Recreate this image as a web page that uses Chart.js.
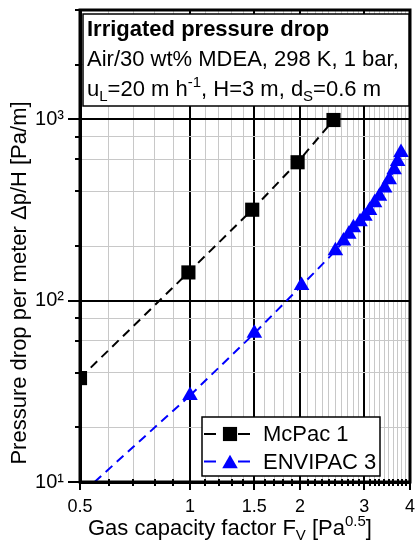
<!DOCTYPE html>
<html>
<head>
<meta charset="utf-8">
<style>
html,body{margin:0;padding:0;background:#fff;}
#wrap{width:420px;height:546px;position:relative;}
</style>
<script src="https://cdn.jsdelivr.net/npm/chart.js@4.4.1/dist/chart.umd.min.js"></script>
</head>
<body>
<div id="wrap"><canvas id="c" width="420" height="546"></canvas></div>
<script>
// ---------- data ----------
const mcpacName = 'McPac 1';
const mcpacFv = [0.5, 0.99, 1.48, 1.97, 2.47];
const mcpacDp = [37.4, 143, 317, 579, 990];

const envipacName = 'ENVIPAC 3';
const envipacFv = [1.0, 1.5, 2.02, 2.5, 2.63, 2.72, 2.8, 2.92, 3.01, 3.1, 3.2, 3.3, 3.41, 3.51, 3.62, 3.7, 3.78];
const envipacDp = [30, 66, 121, 188, 213, 232, 252, 272, 292, 314, 346, 376, 418, 464, 527, 585, 655];

// dashed guide of ENVIPAC 3 below its first point (ends at the bottom axis)
const envipacGuideFv = [0.548, 1.0];
const envipacGuideDp = [10, 30];

const xTickValues = [0.5,0.6,0.7,0.8,0.9,1.0,1.1,1.2,1.3,1.4,1.5,1.6,1.7,1.8,1.9,2.0,2.1,2.2,2.3,2.4,2.5,2.6,2.7,2.8,2.9,3.0,3.1,3.2,3.3,3.4,3.5,3.6,3.7,3.8,3.9,4.0];
const xTickLabels = ['0.5','','','','','1','','','','','1.5','','','','','2','','','','','','','','','','3','','','','','','','','','','4'];
const xMajor = [1.0, 1.5, 2.0, 3.0];

const yTickValues = [10,20,40,60,80,100,200,400,600,800,1000,2000,4000];
const yTickLabels = ['10\u00B9','','','','','10\u00B2','','','','','10\u00B3','',''];
const yMajor = [10, 100, 1000];

const boxTitle = 'Irrigated pressure drop';
const boxLine2 = 'Air/30 wt% MDEA, 298 K, 1 bar,';
const boxLine3 = [['u',''],['L','sub'],['=20 m h',''],['-1','sup'],[', H=3 m, d',''],['S','sub'],['=0.6 m','']];
const xTitle = [['Gas capacity factor F',''],['V','sub'],[' [Pa',''],['0.5','sup'],[']','']];
const yTitle = 'Pressure drop per meter \u0394p/H [Pa/m]';

// ---------- helpers ----------
const FONT = "'Liberation Sans', Arial, Helvetica, sans-serif";
const isIn = (arr, v) => arr.some(a => Math.abs(a - v) < 1e-9);
const pts = (xs, ys) => xs.map((v, i) => ({x: v, y: ys[i]}));

function drawRuns(ctx, x, y, parts, base) {
  let cx = x;
  for (const [t, k] of parts) {
    let size = base, dy = 0, w = '';
    if (k === 'sub') { size = Math.round(base * 0.68); dy = 5; }
    else if (k === 'sup') { size = Math.round(base * 0.68); dy = -9; }
    else if (k === 'b') { w = 'bold '; }
    ctx.font = w + size + 'px ' + FONT;
    ctx.fillText(t, cx, y + dy);
    cx += ctx.measureText(t).width;
  }
  return cx;
}
function seg(ctx, x1, y1, x2, y2) {
  ctx.beginPath(); ctx.moveTo(x1, y1); ctx.lineTo(x2, y2); ctx.stroke();
}

const decor = {
  id: 'decor',
  afterDraw(chart) {
    const {ctx, chartArea: a, scales: {x, y}} = chart;
    ctx.save();
    ctx.strokeStyle = '#000';
    ctx.fillStyle = '#000';
    ctx.setLineDash([]);
    // tick marks
    ctx.lineWidth = 2;
    xTickValues.forEach(v => {
      const px = Math.round(x.getPixelForValue(v));
      if (isIn(xMajor, v) || v === 0.5 || v === 4) seg(ctx, px, a.bottom, px, a.bottom + 8);
      else seg(ctx, px, a.bottom - 3, px, a.bottom + 4);
    });
    yTickValues.forEach(v => {
      const py = Math.round(y.getPixelForValue(v));
      if (isIn(yMajor, v)) seg(ctx, a.left - 12, py, a.left, py);
      else seg(ctx, a.left - 5, py, a.left, py);
    });
    // frame
    ctx.lineWidth = 3;
    ctx.strokeRect(a.left, a.top, a.right - a.left, a.bottom - a.top);

    // annotation box
    ctx.fillStyle = '#fff';
    ctx.fillRect(83, 14, 326, 92);
    ctx.lineWidth = 1.5;
    ctx.strokeRect(83, 14, 326, 92);
    ctx.fillStyle = '#000';
    ctx.textBaseline = 'alphabetic';
    ctx.textAlign = 'left';
    drawRuns(ctx, 87, 36, [[boxTitle, 'b']], 22);
    drawRuns(ctx, 87, 66, [[boxLine2, '']], 22);
    drawRuns(ctx, 87, 96, boxLine3, 22);

    // legend
    ctx.fillStyle = '#fff';
    ctx.fillRect(202, 417, 178, 59);
    ctx.lineWidth = 1.5;
    ctx.strokeRect(202, 417, 178, 59);
    const rows = [
      {name: mcpacName, color: '#000000', style: 'rect', r: 10, y: 434, dy: 0},
      {name: envipacName, color: '#0000ff', style: 'triangle', r: 9, y: 461.5, dy: 2.2}
    ];
    rows.forEach(rw => {
      ctx.strokeStyle = rw.color; ctx.fillStyle = rw.color; ctx.lineWidth = 2;
      seg(ctx, 204, rw.y, 216, rw.y);
      seg(ctx, 238, rw.y, 250, rw.y);
      Chart.helpers.drawPoint(ctx, {pointStyle: rw.style, radius: rw.r, rotation: 0, borderWidth: 0}, 230, rw.y + rw.dy);
      ctx.fillStyle = '#000';
      ctx.font = '22px ' + FONT;
      ctx.textBaseline = 'middle';
      ctx.fillText(rw.name, 263, rw.y + 1);
    });

    // axis titles
    ctx.fillStyle = '#000';
    ctx.textBaseline = 'alphabetic';
    drawRuns(ctx, 88, 535, xTitle, 22);
    ctx.translate(26, 283);
    ctx.rotate(-Math.PI / 2);
    ctx.font = '22px ' + FONT;
    ctx.textAlign = 'center';
    ctx.fillText(yTitle, 0, 0);
    ctx.restore();
  }
};

new Chart(document.getElementById('c'), {
  type: 'line',
  data: {
    datasets: [
      {
        label: envipacName + ' guide',
        data: pts(envipacGuideFv, envipacGuideDp),
        borderColor: '#0000ff', borderWidth: 2, borderDash: [9, 6],
        pointRadius: 0, fill: false, clip: 0, tension: 0
      },
      {
        label: envipacName,
        data: pts(envipacFv, envipacDp),
        borderColor: '#0000ff', backgroundColor: '#0000ff', borderWidth: 2, borderDash: [9, 6],
        pointStyle: 'triangle', pointRadius: 9, pointBorderWidth: 0,
        pointBackgroundColor: '#0000ff', fill: false, clip: 0, tension: 0
      },
      {
        label: mcpacName,
        data: pts(mcpacFv, mcpacDp),
        borderColor: '#000000', backgroundColor: '#000000', borderWidth: 2, borderDash: [9, 6],
        pointStyle: 'rect', pointRadius: 10, pointBorderWidth: 0,
        pointBackgroundColor: '#000000', fill: false, clip: 0, tension: 0
      }
    ]
  },
  options: {
    responsive: false,
    animation: false,
    layout: {padding: {top: 7, right: 3, left: 0, bottom: 0}},
    plugins: {legend: {display: false}, tooltip: {enabled: false}},
    scales: {
      x: {
        type: 'logarithmic', min: 0.5, max: 4,
        afterBuildTicks: s => { s.ticks = xTickValues.map(v => ({value: v})); },
        afterFit: s => { s.height = 64; s.paddingLeft = 0; s.paddingRight = 0; },
        ticks: {
          autoSkip: false, maxRotation: 0, minRotation: 0, padding: 14,
          color: '#000', font: {family: FONT, size: 18},
          callback: (v, i) => xTickLabels[i]
        },
        grid: {
          drawTicks: false,
          color: c => (c.tick && isIn(xMajor, c.tick.value)) ? '#000' : '#c8c8c8',
          lineWidth: c => (c.tick && isIn(xMajor, c.tick.value)) ? 2 : 1
        },
        border: {display: true, color: '#000', width: 3}
      },
      y: {
        type: 'logarithmic', min: 10, max: 4000,
        afterBuildTicks: s => { s.ticks = yTickValues.map(v => ({value: v})); },
        afterFit: s => { s.width = 80; s.paddingTop = 0; s.paddingBottom = 0; },
        ticks: {
          autoSkip: false, padding: 16,
          color: '#000', font: {family: FONT, size: 20},
          callback: (v, i) => yTickLabels[i]
        },
        grid: {
          drawTicks: false,
          color: c => (c.tick && isIn(yMajor, c.tick.value)) ? '#000' : '#c8c8c8',
          lineWidth: c => (c.tick && isIn(yMajor, c.tick.value)) ? 2 : 1
        },
        border: {display: true, color: '#000', width: 3}
      }
    }
  },
  plugins: [decor]
});
</script>
</body>
</html>
